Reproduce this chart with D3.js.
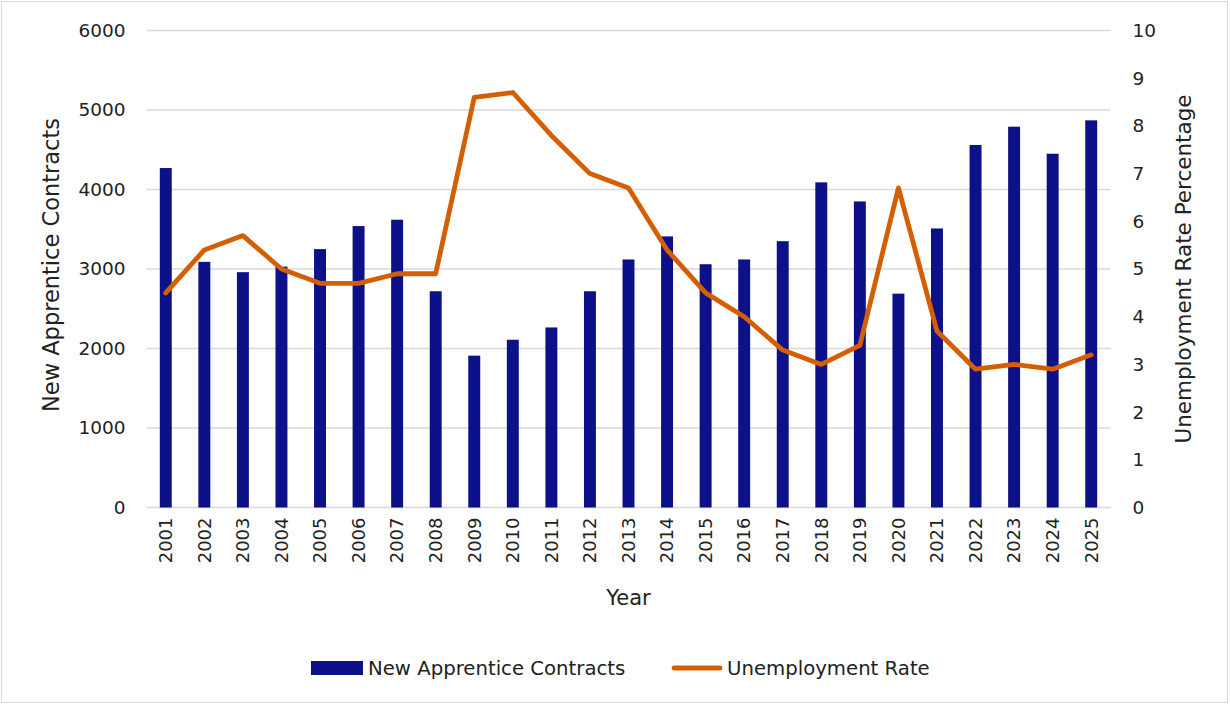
<!DOCTYPE html>
<html><head><meta charset="utf-8">
<script src="https://cdn.jsdelivr.net/npm/d3@7"></script>
<style>body{margin:0;background:#fff}svg{display:block}text{font-family:"DejaVu Sans",sans-serif;fill:#222}</style>
</head><body><svg id="c" width="1230" height="705"></svg>
<script>
const years = ["2001","2002","2003","2004","2005","2006","2007","2008","2009","2010","2011","2012","2013","2014","2015","2016","2017","2018","2019","2020","2021","2022","2023","2024","2025"];
const contracts = [4270,3090,2960,3030,3250,3540,3620,2720,1910,2110,2265,2720,3120,3410,3060,3120,3350,4090,3850,2690,3510,4560,4790,4450,4870];
const unemployment = [4.5,5.4,5.7,5.0,4.7,4.7,4.9,4.9,8.6,8.7,7.8,7.0,6.7,5.4,4.5,4.0,3.3,3.0,3.4,6.7,3.7,2.9,3.0,2.9,3.2];
const leftTicks = [0,1000,2000,3000,4000,5000,6000];
const rightTicks = [0,1,2,3,4,5,6,7,8,9,10];

const svg = d3.select("#c");
const barColor = "#0c1189", lineColor = "#d45f02", gridColor = "#d9d9d9";
svg.append("rect").attr("x",1.5).attr("y",1.5).attr("width",1226).attr("height",701).attr("fill","#fff").attr("stroke","#d9d9d9");

const L = 146.5, R = 1110.5, T = 30.5, B = 507.5;
const x = d3.scaleBand().domain(years).range([L,R]).paddingInner(0.69).paddingOuter(0.345);
const yL = d3.scaleLinear().domain([0,6000]).range([B,T]);
const yR = d3.scaleLinear().domain([0,10]).range([B,T]);

// grid
svg.append("g").selectAll("line").data(leftTicks).join("line")
  .attr("x1",L).attr("x2",R).attr("y1",d=>yL(d)).attr("y2",d=>yL(d))
  .attr("stroke",gridColor).attr("stroke-width",1.3);

const fs = 18.5;
const gl = svg.append("g").attr("transform",`translate(${L-21},0)`)
  .call(d3.axisLeft(yL).tickValues(leftTicks).tickSize(0).tickPadding(0).tickFormat(d3.format("d")));
gl.select(".domain").remove();
gl.selectAll("text").style("font-size",fs+"px").style("font-family","DejaVu Sans").attr("fill","#222");

const gr = svg.append("g").attr("transform",`translate(${R+22},0)`)
  .call(d3.axisRight(yR).tickValues(rightTicks).tickSize(0).tickPadding(0).tickFormat(d3.format("d")));
gr.select(".domain").remove();
gr.selectAll("text").style("font-size",fs+"px").style("font-family","DejaVu Sans").attr("fill","#222");

// bars
svg.append("g").selectAll("rect").data(years).join("rect")
  .attr("x",d=>x(d)).attr("width",x.bandwidth())
  .attr("y",(d,i)=>yL(contracts[i])).attr("height",(d,i)=>B-yL(contracts[i]))
  .attr("fill",barColor);

// line
const line = d3.line().x((d,i)=>x(years[i])+x.bandwidth()/2).y(d=>yR(d));
svg.append("path").datum(unemployment).attr("d",line).attr("fill","none")
  .attr("stroke",lineColor).attr("stroke-width",4.8).attr("stroke-linejoin","round").attr("stroke-linecap","round");

// x labels
const gx = svg.append("g").attr("transform",`translate(0,${B})`)
  .call(d3.axisBottom(x).tickSize(0).tickPadding(0));
gx.select(".domain").remove();
gx.selectAll("text").style("font-size","18px").style("font-family","DejaVu Sans").attr("fill","#222")
  .attr("transform","rotate(-90)").attr("text-anchor","end").attr("dy","0.35em").attr("x",-10).attr("y",0);

// titles
svg.append("text").attr("transform",`translate(59,${(T+B)/2 - 4}) rotate(-90)`).attr("text-anchor","middle")
  .style("font-size","22.5px").text("New Apprentice Contracts");
svg.append("text").attr("transform",`translate(1191,${(T+B)/2}) rotate(-90)`).attr("text-anchor","middle")
  .style("font-size","21.5px").text("Unemployment Rate Percentage");
svg.append("text").attr("x",(L+R)/2).attr("y",605).attr("text-anchor","middle").style("font-size","21px").text("Year");

// legend
const lg = svg.append("g").attr("transform","translate(0,668)");
lg.append("rect").attr("x",311).attr("y",-7).attr("width",52).attr("height",14).attr("fill",barColor);
lg.append("text").attr("x",368).attr("y",0).attr("dy","0.35em").style("font-size","19.7px").text("New Apprentice Contracts");
lg.append("line").attr("x1",674).attr("x2",720).attr("y1",0).attr("y2",0).attr("stroke",lineColor).attr("stroke-width",4.8).attr("stroke-linecap","round");
lg.append("text").attr("x",727).attr("y",0).attr("dy","0.35em").style("font-size","19.7px").text("Unemployment Rate");
</script></body></html>
